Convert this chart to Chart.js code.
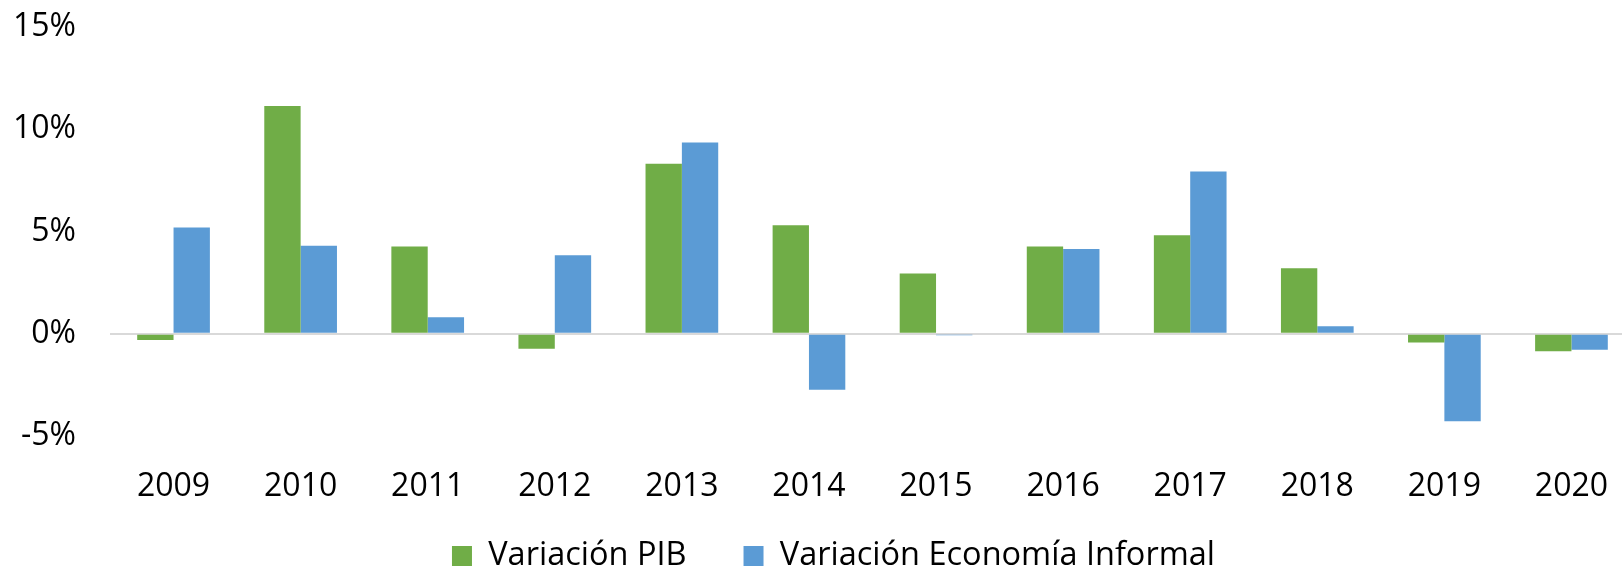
<!DOCTYPE html>
<html>
<head>
<meta charset="utf-8">
<script src="https://cdn.jsdelivr.net/npm/chart.js@4.4.1/dist/chart.umd.min.js"></script>
<style>
  html, body { margin: 0; padding: 0; background: #ffffff; overflow: hidden; width: 1622px; height: 567px; }
  #wrap { position: absolute; left: 0; top: 0; }
</style>
</head>
<body>
<div id="wrap"><canvas id="c" width="1668" height="638"></canvas></div>
<script>
const years = ['2009','2010','2011','2012','2013','2014','2015','2016','2017','2018','2019','2020'];
const variacionPIB = [-0.3, 11.14, 4.27, -0.73, 8.31, 5.31, 2.95, 4.27, 4.82, 3.21, -0.42, -0.85];
const variacionInformal = [5.2, 4.3, 0.81, 3.84, 9.35, -2.74, -0.07, 4.15, 7.93, 0.37, -4.28, -0.78];
const seriesNames = ['Variación PIB', 'Variación Economía Informal'];
const yTicks = [-5, 0, 5, 10, 15];

const FONT = "'Open Sans', 'Noto Sans', sans-serif";

// place the legend row where the reference has it
const legendShift = {
  id: 'legendShift',
  afterLayout(chart) {
    const lg = chart.legend;
    if (!lg) return;
    lg.top -= 55.75;
    lg.bottom -= 55.75;
    lg.left += 16;
    lg.right += 16;
  }
};

new Chart(document.getElementById('c'), {
  type: 'bar',
  data: {
    labels: years,
    datasets: [
      { label: seriesNames[0], data: variacionPIB, backgroundColor: '#70AD47', borderWidth: 0 },
      { label: seriesNames[1], data: variacionInformal, backgroundColor: '#5B9BD5', borderWidth: 0 }
    ]
  },
  options: {
    responsive: false,
    devicePixelRatio: 1,
    animation: false,
    layout: { padding: { left: 0, right: 33, top: 27, bottom: 0 } },
    datasets: { bar: { categoryPercentage: 0.572, barPercentage: 1.0 } },
    plugins: {
      tooltip: { enabled: false },
      legend: {
        position: 'bottom',
        labels: {
          boxWidth: 20,
          boxHeight: 20,
          padding: 57,
          color: '#000000',
          font: { family: FONT, size: 32.5 }
        }
      }
    },
    scales: {
      x: {
        grid: { display: false, drawTicks: false },
        border: { display: false },
        afterFit(scale) { scale.paddingLeft = 0; scale.paddingRight = 0; },
        ticks: {
          color: '#000000',
          padding: 32,
          font: { family: FONT, size: 32 },
          maxRotation: 0
        }
      },
      y: {
        min: -5,
        max: 15,
        afterFit(scale) { scale.width = 110; scale.paddingTop = 0; scale.paddingBottom = 0; },
        afterBuildTicks(scale) { scale.ticks = yTicks.map(v => ({ value: v })); },
        border: { display: false },
        grid: {
          drawTicks: false,
          lineWidth: 2,
          color: (ctx) => (ctx.tick && ctx.tick.value === 0) ? '#d9d9d9' : 'rgba(0,0,0,0)'
        },
        ticks: {
          color: '#000000',
          padding: 34,
          font: { family: FONT, size: 32 },
          callback: (v) => v + '%'
        }
      }
    }
  },
  plugins: [legendShift]
});
</script>
</body>
</html>
